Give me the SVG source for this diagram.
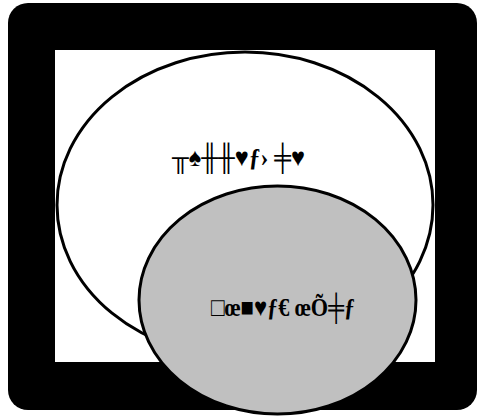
<svg xmlns="http://www.w3.org/2000/svg" width="477" height="416" viewBox="0 0 477 416">
<style>
.lbl{font-family:"Liberation Serif","DejaVu Serif",serif;font-size:26px;fill:#000;font-weight:bold}
.ell{stroke:#000;stroke-width:3}
</style>
<rect x="8" y="3" width="469" height="407" rx="20" ry="20" fill="#000"/>
<rect x="55" y="50" width="380" height="312" fill="#fff"/>
<g id="outer">
<ellipse class="ell" cx="245" cy="205" rx="188" ry="153" fill="#fff"/>
<text class="lbl" x="172" y="166" textLength="133" lengthAdjust="spacingAndGlyphs">╥♠╫╫♥ƒ› ╪♥</text>
</g>
<g id="inner">
<ellipse class="ell" cx="277.5" cy="300" rx="138.5" ry="114" fill="#c0c0c0"/>
<text class="lbl" x="211" y="316" textLength="144" lengthAdjust="spacingAndGlyphs">□œ■♥ƒ€ œÕ╪ƒ</text>
</g>
<g id="connectors"/>
</svg>
